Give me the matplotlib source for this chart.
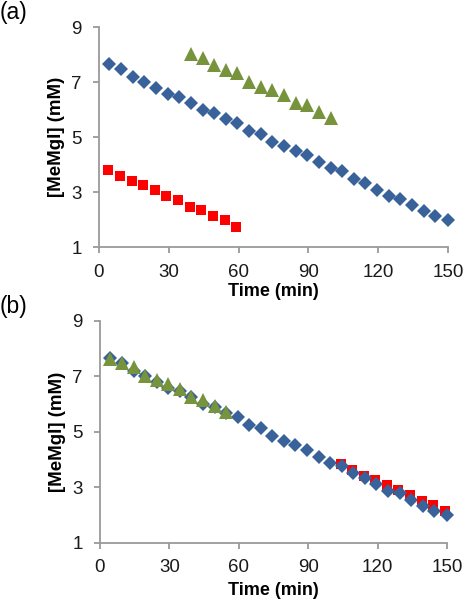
import matplotlib
matplotlib.use("Agg")
import matplotlib.pyplot as plt

plt.rcParams['font.family'] = ['Liberation Sans', 'DejaVu Sans']

# ---- Panel (a) data ----
blue_time = [4.5, 9.5, 14.5, 19.5, 24.5, 29.5, 34.5, 39.5, 44.5, 49.5,
             54.5, 59.5, 64.5, 69.5, 74.5, 79.5, 84.5, 89.5, 94.5, 99.5,
             104.5, 109.5, 114.5, 119.5, 124.5, 129.5, 134.5, 139.5, 144.5, 150]
blue_conc = [7.65, 7.47, 7.19, 7.02, 6.79, 6.57, 6.45, 6.23, 6.00, 5.89,
             5.68, 5.51, 5.23, 5.12, 4.84, 4.67, 4.50, 4.34, 4.10, 3.88,
             3.77, 3.49, 3.33, 3.10, 2.87, 2.77, 2.53, 2.31, 2.14, 1.98]

green_time_a = [39.5, 44.5, 49.5, 54.5, 59.5, 64.5, 69.5, 74.5, 79.5, 84.5,
                89.5, 94.5, 99.5]
green_conc_a = [8.02, 7.88, 7.62, 7.46, 7.35, 7.00, 6.82, 6.72, 6.55, 6.26,
                6.16, 5.93, 5.72]

red_time_a = [4, 9, 14, 19, 24, 29, 34, 39, 44, 49, 54, 59]
red_conc_a = [3.82, 3.59, 3.42, 3.27, 3.08, 2.88, 2.71, 2.48, 2.37, 2.14,
              1.98, 1.75]

# ---- Panel (b) data ----
green_time_b = [4.5, 9.5, 14.5, 19.5, 24.5, 29.5, 34.5, 39.5, 44.5, 49.5, 54.5]
green_conc_b = [7.62, 7.48, 7.33, 7.00, 6.86, 6.71, 6.55, 6.25, 6.14, 5.92, 5.71]

red_time_b = [104, 109, 114, 119, 124, 129, 134, 139, 144, 149]
red_conc_b = [3.84, 3.62, 3.41, 3.25, 3.08, 2.90, 2.73, 2.51, 2.35, 2.13]

x_ticks = [0, 30, 60, 90, 120, 150]
y_ticks = [1, 3, 5, 7, 9]

BLUE = '#386299'
GREEN = '#77933C'
RED = '#FF0000'
GRAY = '#9A9A9A'

fig = plt.figure(figsize=(4.64, 6.0), dpi=100)

def style(ax, xlabel_y):
    ax.set_xlim(0, 150)
    ax.set_ylim(1, 9)
    ax.set_xticks(x_ticks)
    ax.set_yticks(y_ticks)
    for s in ['top', 'right']:
        ax.spines[s].set_visible(False)
    for s in ['left', 'bottom']:
        ax.spines[s].set_color(GRAY)
        ax.spines[s].set_linewidth(1.3)
    ax.tick_params(axis='both', direction='out', length=4, width=1.3,
                   color=GRAY, labelsize=13.5, labelcolor='#1a1a1a')
    ax.tick_params(axis='x', pad=8)
    ax.tick_params(axis='y', pad=8.5)
    ax.set_xlabel('Time (min)', fontsize=13, fontweight='bold')
    ax.set_ylabel('[MeMgI] (mM)', fontsize=13.5, fontweight='bold')
    ax.xaxis.set_label_coords(0.5, xlabel_y)
    ax.yaxis.set_label_coords(-0.097, 0.5)

ax1 = fig.add_axes([99/464, 1-247.3/600, 349/464, 220/600])
style(ax1, -0.16)
ax1.plot(blue_time, blue_conc, 'D', color=BLUE, ms=7, mew=0, clip_on=False)
ax1.plot(green_time_a, green_conc_a, '^', color=GREEN, ms=10, mew=0, clip_on=False)
ax1.plot(red_time_a, red_conc_a, 's', color=RED, ms=7, mew=0, clip_on=False)

ax2 = fig.add_axes([100/464, 1-542.5/600, 347/464, 221.8/600])
style(ax2, -0.18)
ax2.plot(red_time_b, red_conc_b, 's', color=RED, ms=7, mew=0, clip_on=False)
ax2.plot(blue_time, blue_conc, 'D', color=BLUE, ms=7, mew=0, clip_on=False)
ax2.plot(green_time_b, green_conc_b, '^', color=GREEN, ms=10, mew=0, clip_on=False)

fig.text(0.0, 1-12/600, '(a)', fontsize=16.5, va='center', ha='left')
fig.text(0.0, 1-306/600, '(b)', fontsize=16.5, va='center', ha='left')

fig.savefig('out.png', dpi=100)
